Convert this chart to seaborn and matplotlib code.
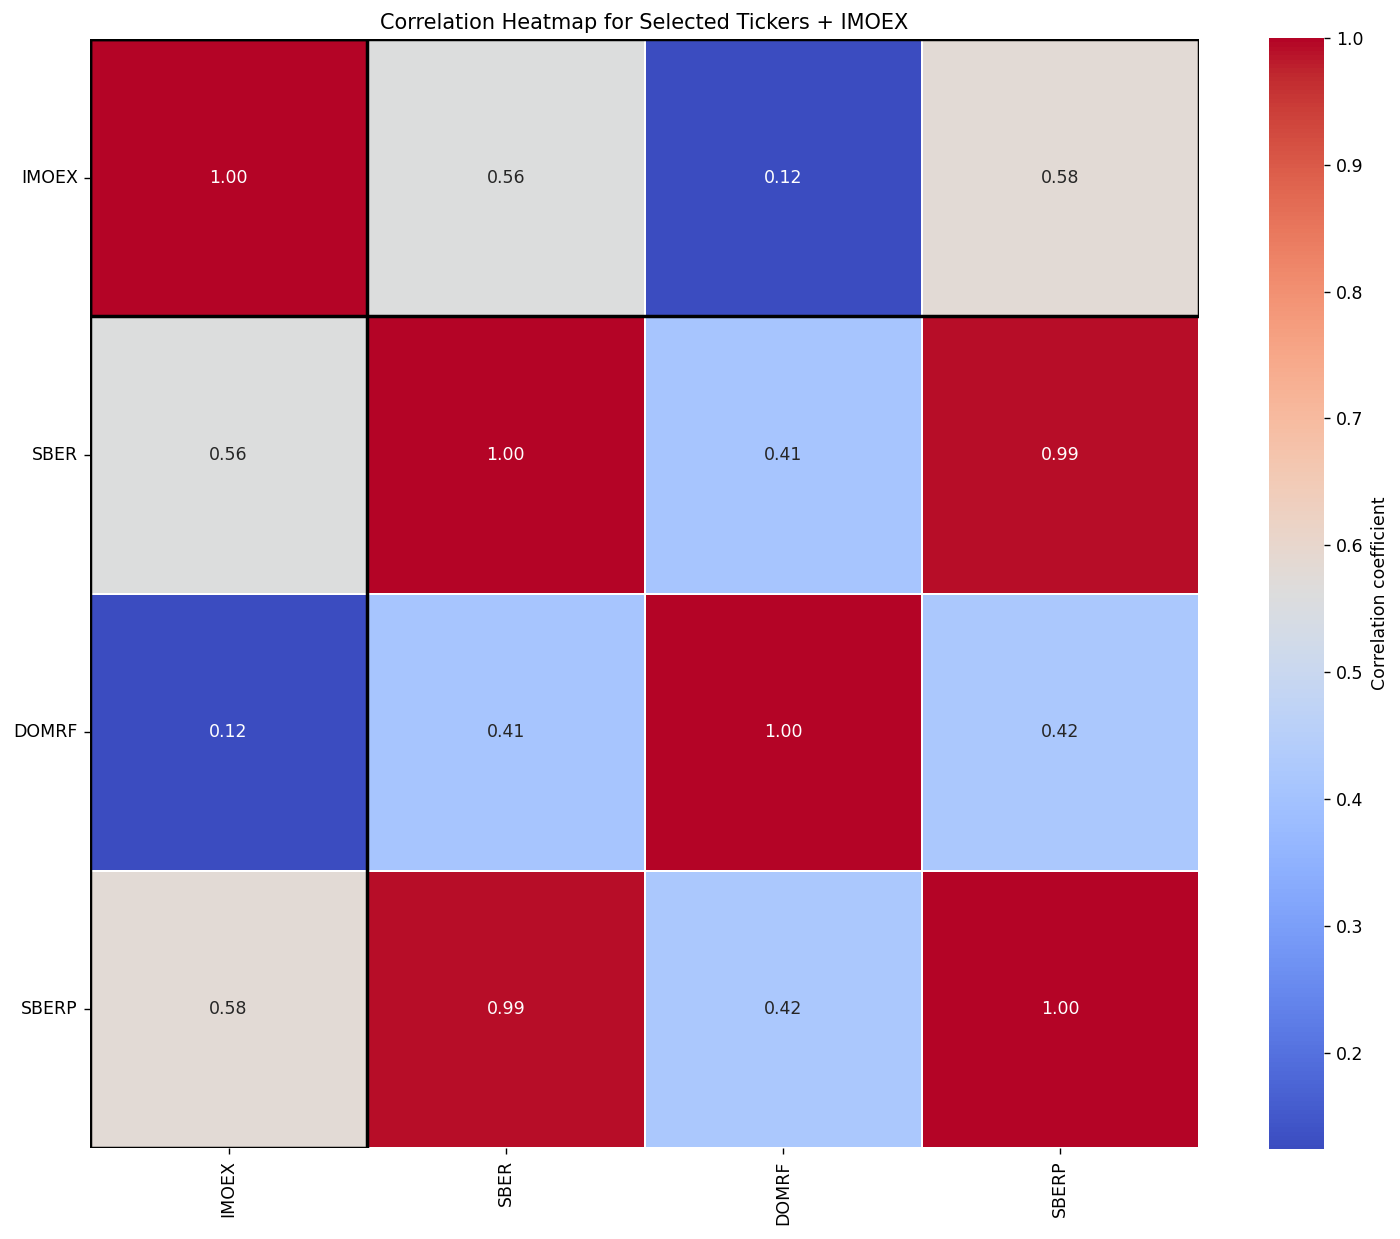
import matplotlib
matplotlib.use("Agg")
import matplotlib.pyplot as plt
import seaborn as sns
import pandas as pd
from matplotlib.patches import Rectangle

tickers = ["IMOEX", "SBER", "DOMRF", "SBERP"]
row_imoex = [1.00, 0.56, 0.124, 0.58]
row_sber = [0.56, 1.00, 0.41, 0.99]
row_domrf = [0.124, 0.41, 1.00, 0.42]
row_sberp = [0.58, 0.99, 0.42, 1.00]

corr = pd.DataFrame([row_imoex, row_sber, row_domrf, row_sberp], index=tickers, columns=tickers)

W, H = 1400, 1239
fig = plt.figure(figsize=(W / 125, H / 125), dpi=125)
ax = fig.add_axes([90 / W, (H - 1149) / H, 1109 / W, 1111 / H])
cax = fig.add_axes([1269 / W, (H - 1149) / H, 55 / W, 1111 / H])
sns.heatmap(corr, annot=True, fmt=".2f", cmap="coolwarm", square=True,
            linewidths=1, linecolor="white", ax=ax, cbar_ax=cax,
            cbar_kws={"label": "Correlation coefficient"})
ax.add_patch(Rectangle((0, 0), len(tickers), 1, fill=False, edgecolor="black", lw=2))
ax.add_patch(Rectangle((0, 0), 1, len(tickers), fill=False, edgecolor="black", lw=2))
ax.set_title("Correlation Heatmap for Selected Tickers + IMOEX")
plt.setp(ax.get_xticklabels(), rotation=90)
plt.setp(ax.get_yticklabels(), rotation=0)
fig.savefig("out.png", dpi=125)
